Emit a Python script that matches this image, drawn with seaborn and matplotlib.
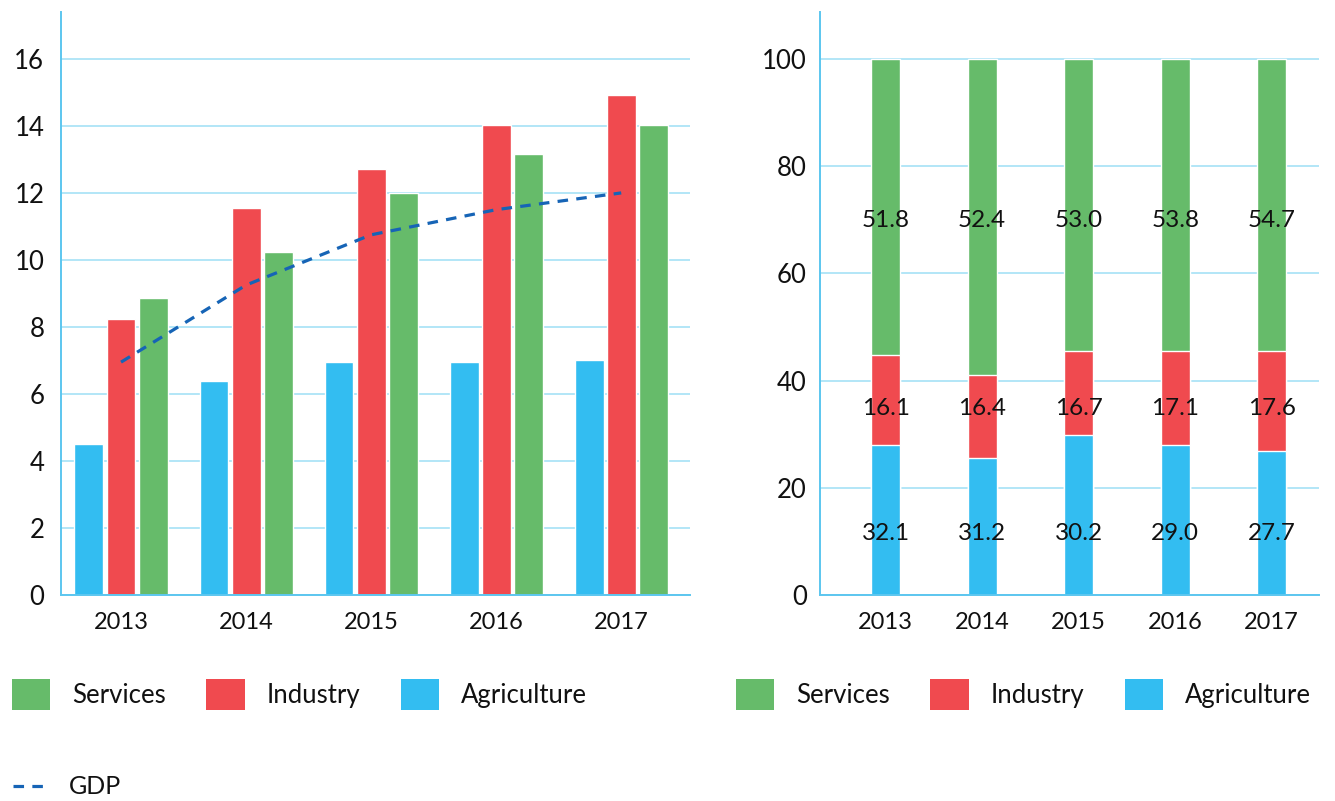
import numpy as np
import pandas as pd
import seaborn as sns
import matplotlib.pyplot as plt
from matplotlib.patches import Patch
from matplotlib.lines import Line2D

years = ["2013", "2014", "2015", "2016", "2017"]
sectors = ["Agriculture", "Industry", "Services"]

# left panel: growth by sector + GDP
agri_growth = [4.52, 6.40, 6.94, 6.94, 7.02]
ind_growth = [8.24, 11.54, 12.71, 14.02, 14.91]
serv_growth = [8.87, 10.24, 11.99, 13.16, 14.02]
gdp_growth = [6.95, 9.25, 10.75, 11.5, 12.0]

# right panel: share bars (heights as drawn) and printed labels
agri_share = [28.0, 25.6, 29.9, 28.0, 26.9]
ind_share = [16.7, 15.4, 15.6, 17.5, 18.6]
serv_share = [55.3, 59.0, 54.5, 54.5, 54.5]
agri_lbl = ["32.1", "31.2", "30.2", "29.0", "27.7"]
ind_lbl = ["16.1", "16.4", "16.7", "17.1", "17.6"]
serv_lbl = ["51.8", "52.4", "53.0", "53.8", "54.7"]

COLORS = {"Agriculture": "#33bdf1", "Industry": "#f04a4f", "Services": "#66bb6a"}
GDP_COLOR = "#1664b6"
GRID = "#a6e1f6"
SPINE = "#5cc6ef"
TXT = "#111111"

sns.set_style("white")
plt.rcParams["font.family"] = ["Lato", "DejaVu Sans"]

W, H = 1335, 801
fig = plt.figure(figsize=(W / 100, H / 100), dpi=100)
ax1 = fig.add_axes([61 / W, 1 - 595 / H, 629 / W, 583 / H])
ax2 = fig.add_axes([820 / W, 1 - 595 / H, 499 / W, 583 / H])


def style(ax, ticks, ymax, ypad):
    ax.set_ylim(0, ymax)
    ax.set_yticks(ticks)
    ax.grid(axis="y", color=GRID, lw=1.2)
    ax.grid(axis="x", visible=False)
    ax.set_axisbelow(True)
    for s in ["top", "right"]:
        ax.spines[s].set_visible(False)
    for s in ["left", "bottom"]:
        ax.spines[s].set_color(SPINE)
        ax.spines[s].set_linewidth(1.4)
    ax.tick_params(axis="y", length=0, labelsize=18.5, pad=ypad, labelcolor=TXT)
    ax.tick_params(axis="x", length=0, labelsize=17, pad=12.5, labelcolor=TXT)
    ax.set_xlabel("")
    ax.set_ylabel("")


# left: grouped bars
growth = pd.DataFrame({
    "year": years * 3,
    "sector": np.repeat(sectors, len(years)),
    "value": agri_growth + ind_growth + serv_growth,
})
sns.barplot(data=growth, x="year", y="value", hue="sector", hue_order=sectors,
            palette=COLORS, width=0.77, gap=0.1, saturation=1,
            legend=False, ax=ax1)
ax1.plot(range(len(years)), gdp_growth, color=GDP_COLOR, lw=2.3,
         ls=(0, (3.3, 2.6)), zorder=5)
ax1.set_xlim(-0.48, 4.55)
style(ax1, np.arange(0, 17, 2), 17.4, 12)

# right: stacked shares (drawn back to front as cumulative heights)
cum_ind = np.array(agri_share) + np.array(ind_share)
cum_serv = cum_ind + np.array(serv_share)
for heights, sec in [(cum_serv, "Services"), (cum_ind, "Industry"), (agri_share, "Agriculture")]:
    sns.barplot(x=years, y=heights, color=COLORS[sec], width=0.30,
                saturation=1, ax=ax2)
for labels, ypos in [(agri_lbl, 10.3), (ind_lbl, 33.6), (serv_lbl, 68.6)]:
    for i, lab in enumerate(labels):
        ax2.text(i, ypos, lab, ha="center", va="baseline", fontsize=17.5, color=TXT, zorder=6)
ax2.set_xlim(-0.68, 4.49)
style(ax2, np.arange(0, 101, 20), 108.8, 9.5)

# legends
legend_order = ["Services", "Industry", "Agriculture"]
handles = [Patch(facecolor=COLORS[s], edgecolor="none") for s in legend_order]
leg_kw = dict(loc="upper left", ncol=3, frameon=False, fontsize=18.5,
              handlelength=1.48, handleheight=1.48, handletextpad=0.86,
              columnspacing=1.58, borderpad=0, borderaxespad=0, labelcolor=TXT)
fig.legend(handles, legend_order, bbox_to_anchor=(12 / W, 1 - 679 / H), **leg_kw)
fig.legend(handles, legend_order, bbox_to_anchor=(736 / W, 1 - 679 / H), **leg_kw)
gdp_handle = Line2D([], [], color=GDP_COLOR, lw=2.3, ls=(0, (3.3, 2.6)))
fig.legend([gdp_handle], ["GDP"], loc="center left", bbox_to_anchor=(13 / W, 1 - 787 / H),
           frameon=False, fontsize=18, handlelength=1.42, handletextpad=0.8,
           borderpad=0, borderaxespad=0, labelcolor=TXT)

fig.savefig("out.png", dpi=100)
